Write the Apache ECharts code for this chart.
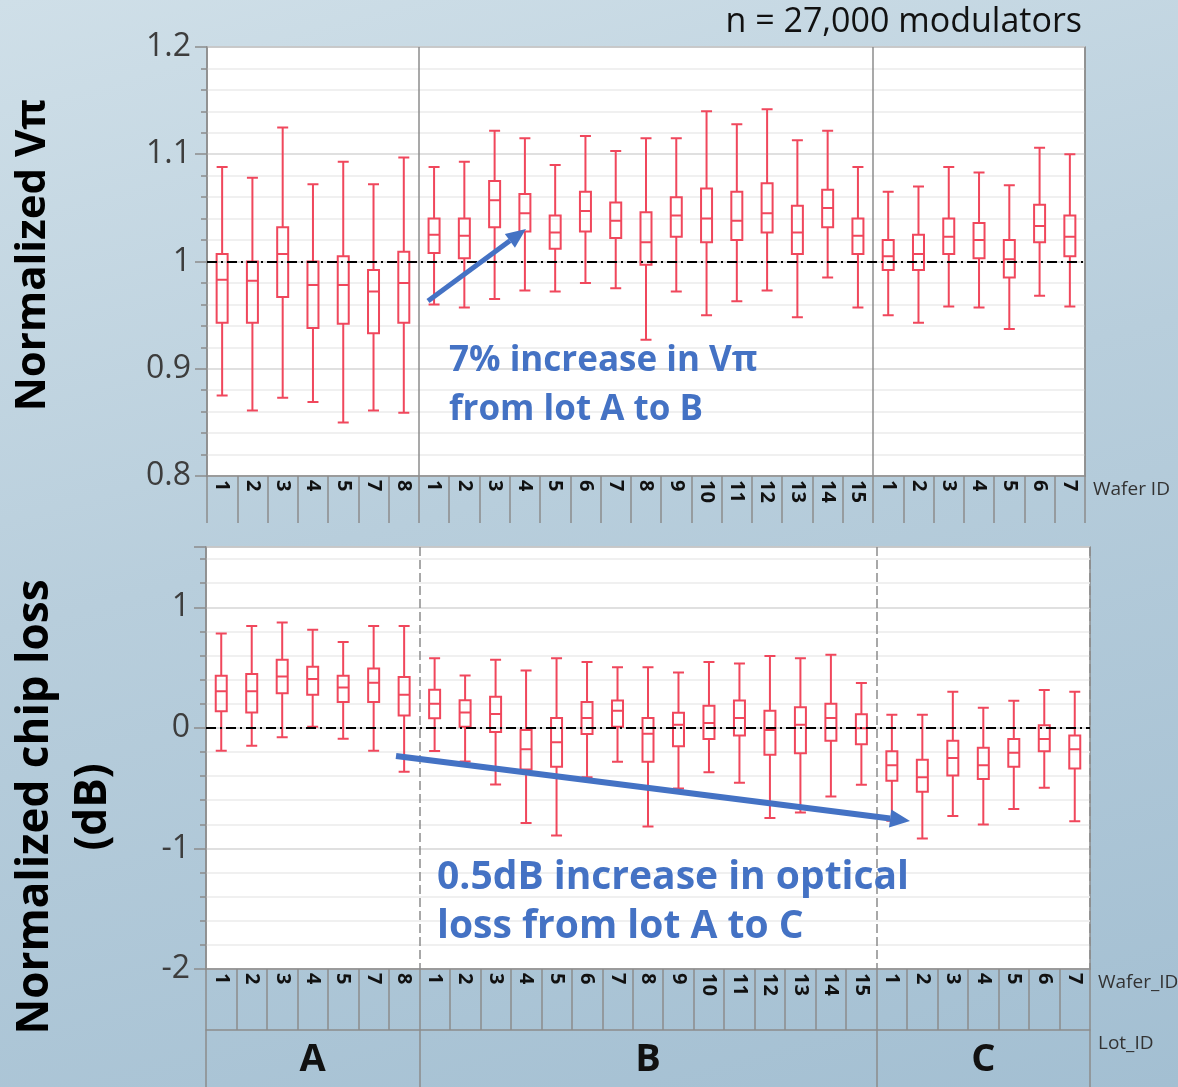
<!DOCTYPE html>
<html>
<head>
<meta charset="utf-8">
<script src="https://cdn.jsdelivr.net/npm/echarts@6/dist/echarts.min.js"></script>
<style>
  html, body { margin: 0; padding: 0; }
  body {
    width: 1178px; height: 1087px; overflow: hidden;
    background: linear-gradient(165deg, #cfdfe8 0%, #b8cedc 45%, #a3bfd2 100%);
  }
  #chart { width: 1178px; height: 1087px; }
</style>
</head>
<body>
<div id="chart"></div>
<script>
const lots = ['A', 'B', 'C'];
const wafersA = ['1', '2', '3', '4', '5', '7', '8'];
const wafersB = ['1', '2', '3', '4', '5', '6', '7', '8', '9', '10', '11', '12', '13', '14', '15'];
const wafersC = ['1', '2', '3', '4', '5', '6', '7'];

// Normalized Vpi, [min, Q1, median, Q3, max] per wafer
const vpiLotA = [
  [0.875, 0.943, 0.983, 1.007, 1.088],
  [0.861, 0.943, 0.982, 1.000, 1.078],
  [0.873, 0.967, 1.007, 1.032, 1.125],
  [0.869, 0.938, 0.978, 1.000, 1.072],
  [0.850, 0.942, 0.978, 1.005, 1.093],
  [0.861, 0.933, 0.972, 0.992, 1.072],
  [0.859, 0.943, 0.980, 1.009, 1.097]
];
const vpiLotB = [
  [0.960, 1.008, 1.025, 1.040, 1.088],
  [0.957, 1.003, 1.024, 1.040, 1.093],
  [0.965, 1.032, 1.057, 1.075, 1.122],
  [0.973, 1.028, 1.045, 1.063, 1.115],
  [0.972, 1.012, 1.027, 1.043, 1.090],
  [0.980, 1.028, 1.047, 1.065, 1.117],
  [0.975, 1.022, 1.038, 1.055, 1.103],
  [0.927, 0.997, 1.018, 1.046, 1.115],
  [0.972, 1.023, 1.043, 1.060, 1.115],
  [0.950, 1.018, 1.040, 1.068, 1.140],
  [0.963, 1.020, 1.038, 1.065, 1.128],
  [0.973, 1.027, 1.045, 1.073, 1.142],
  [0.948, 1.007, 1.027, 1.052, 1.113],
  [0.985, 1.032, 1.050, 1.067, 1.122],
  [0.957, 1.007, 1.024, 1.040, 1.088]
];
const vpiLotC = [
  [0.950, 0.992, 1.005, 1.020, 1.065],
  [0.943, 0.992, 1.007, 1.025, 1.070],
  [0.958, 1.007, 1.023, 1.040, 1.088],
  [0.957, 1.003, 1.020, 1.036, 1.083],
  [0.937, 0.985, 1.002, 1.020, 1.071],
  [0.968, 1.018, 1.033, 1.053, 1.106],
  [0.958, 1.005, 1.023, 1.043, 1.100]
];

// Normalized chip loss (dB), [min, Q1, median, Q3, max] per wafer
const lossLotA = [
  [-0.190, 0.137, 0.303, 0.433, 0.783],
  [-0.149, 0.127, 0.303, 0.447, 0.844],
  [-0.078, 0.286, 0.425, 0.565, 0.874],
  [0.010, 0.275, 0.405, 0.507, 0.814],
  [-0.091, 0.215, 0.334, 0.433, 0.712],
  [-0.190, 0.215, 0.375, 0.493, 0.844],
  [-0.364, 0.102, 0.275, 0.422, 0.844]
];
const lossLotB = [
  [-0.191, 0.079, 0.200, 0.316, 0.578],
  [-0.279, 0.010, 0.128, 0.230, 0.434],
  [-0.469, -0.034, 0.115, 0.258, 0.564],
  [-0.789, -0.345, -0.178, -0.017, 0.475],
  [-0.893, -0.323, -0.120, 0.082, 0.578],
  [-0.409, -0.050, 0.082, 0.214, 0.547],
  [-0.282, 0.010, 0.142, 0.227, 0.503],
  [-0.819, -0.282, -0.048, 0.082, 0.503],
  [-0.502, -0.153, 0.026, 0.126, 0.459],
  [-0.368, -0.092, 0.040, 0.183, 0.547],
  [-0.455, -0.064, 0.082, 0.227, 0.533],
  [-0.748, -0.224, -0.017, 0.142, 0.597],
  [-0.701, -0.211, 0.026, 0.170, 0.578],
  [-0.569, -0.106, 0.082, 0.200, 0.607],
  [-0.472, -0.136, -0.004, 0.112, 0.373]
];
const lossLotC = [
  [-0.770, -0.439, -0.310, -0.194, 0.109],
  [-0.918, -0.530, -0.409, -0.265, 0.109],
  [-0.731, -0.395, -0.249, -0.106, 0.300],
  [-0.802, -0.425, -0.310, -0.166, 0.167],
  [-0.673, -0.323, -0.207, -0.092, 0.225],
  [-0.497, -0.194, -0.092, 0.021, 0.313],
  [-0.775, -0.337, -0.178, -0.064, 0.300]
];

const waferLists = [wafersA, wafersB, wafersC];
const categories = [];
const lotStart = [];
const lotCenter = [];
lots.forEach((lot, k) => {
  lotStart.push(categories.length);
  lotCenter.push(categories.length + Math.floor(waferLists[k].length / 2));
  waferLists[k].forEach(w => categories.push(lot + '-' + w));
});
const vpiData = vpiLotA.concat(vpiLotB, vpiLotC);
const lossData = lossLotA.concat(lossLotB, lossLotC);

const FONT = '"Open Sans", "Noto Sans", sans-serif';
const GRAY = '#8c8c8c';
const RED = '#f0475c';
const BLUE = '#4472c4';

function waferAxis(gridIndex, tickLen, name, dividerType) {
  return {
    gridIndex: gridIndex,
    type: 'category',
    data: categories,
    boundaryGap: true,
    axisLine: { show: true, onZero: false, lineStyle: { color: GRAY, width: 1.5 } },
    axisTick: { show: true, interval: 0, length: tickLen, lineStyle: { color: GRAY, width: 1.5 } },
    axisLabel: {
      interval: 0, rotate: -90, margin: 4,
      fontFamily: FONT, fontSize: 20, fontWeight: 'bold', color: '#111',
      formatter: v => v.split('-')[1]
    },
    splitLine: {
      show: true,
      interval: i => lotStart.indexOf(i) > 0,
      lineStyle: { color: GRAY, width: 1.5, type: dividerType }
    },
    name: name,
    nameLocation: 'end',
    nameGap: 8,
    nameTextStyle: {
      fontFamily: FONT, fontSize: 19, color: '#333',
      align: 'left', verticalAlign: 'top', padding: [4, 0, 0, 0]
    }
  };
}

function valueAxis(gridIndex, min, max, interval) {
  return {
    gridIndex: gridIndex,
    type: 'value',
    min: min, max: max, interval: interval,
    axisLine: { show: true, lineStyle: { color: GRAY, width: 1.5 } },
    axisTick: { show: true, length: 12, lineStyle: { color: GRAY, width: 1.5 } },
    minorTick: { show: true, splitNumber: 5, length: 6, lineStyle: { color: GRAY, width: 1.5 } },
    axisLabel: { fontFamily: FONT, fontSize: 32, color: '#3d3d3d', margin: 16, showMaxLabel: gridIndex === 0 },
    splitLine: { show: true, lineStyle: { color: '#d6d6d6', width: 1.5 } },
    minorSplitLine: { show: true, lineStyle: { color: '#ececec', width: 1.5 } }
  };
}

function refLine(value) {
  return {
    silent: true,
    symbol: 'none',
    label: { show: false },
    lineStyle: { color: '#000', width: 1.8, type: [10, 4, 2, 4] },
    data: [{ yAxis: value }]
  };
}

function arrow(x1, y1, x2, y2, w, headLen, headW) {
  const a = Math.atan2(y2 - y1, x2 - x1);
  const bx = x2 - headLen * Math.cos(a);
  const by = y2 - headLen * Math.sin(a);
  const px = -Math.sin(a) * headW / 2;
  const py = Math.cos(a) * headW / 2;
  return [
    { type: 'line', z: 100, shape: { x1: x1, y1: y1, x2: bx, y2: by }, style: { stroke: BLUE, lineWidth: w } },
    { type: 'polygon', z: 100, shape: { points: [[x2, y2], [bx + px, by + py], [bx - px, by - py]] }, style: { fill: BLUE } }
  ];
}

function label(text, x, y, size) {
  return {
    type: 'text', x: x, y: y, z: 100,
    style: {
      text: text, fontFamily: FONT, fontSize: size, fontWeight: 'bold',
      fill: BLUE, align: 'left', verticalAlign: 'middle'
    }
  };
}

const chart = echarts.init(document.getElementById('chart'), null, { renderer: 'canvas' });

chart.setOption({
  animation: false,
  backgroundColor: 'transparent',
  grid: [
    { left: 207, top: 47, width: 878, height: 429, show: true, backgroundColor: '#fff',
      borderColor: GRAY, borderWidth: 1.5, containLabel: false, outerBoundsMode: 'none' },
    { left: 206, top: 547, width: 884, height: 422, show: true, backgroundColor: '#fff',
      borderColor: GRAY, borderWidth: 1.5, containLabel: false, outerBoundsMode: 'none' }
  ],
  xAxis: [
    waferAxis(0, 47, 'Wafer ID', 'solid'),
    waferAxis(1, 61, 'Wafer_ID', [9, 4]),
    {
      gridIndex: 1,
      type: 'category',
      data: categories,
      position: 'bottom',
      offset: 61,
      boundaryGap: true,
      axisLine: { show: true, onZero: false, lineStyle: { color: GRAY, width: 1.5 } },
      axisTick: { show: true, interval: i => lotStart.indexOf(i) >= 0, length: 57, lineStyle: { color: GRAY, width: 1.5 } },
      axisLabel: {
        interval: 0, margin: 11,
        fontFamily: FONT, fontSize: 38, fontWeight: 'bold', color: '#111',
        formatter: (v, i) => (lotCenter.indexOf(i) >= 0 ? lots[lotCenter.indexOf(i)] : '')
      },
      splitLine: { show: false },
      name: 'Lot_ID',
      nameLocation: 'end',
      nameGap: 8,
      nameTextStyle: {
        fontFamily: FONT, fontSize: 19, color: '#333',
        align: 'left', verticalAlign: 'top', padding: [4, 0, 0, 0]
      }
    }
  ],
  yAxis: [
    valueAxis(0, 0.8, 1.2, 0.1),
    valueAxis(1, -2, 1.5, 1)
  ],
  series: [
    {
      name: 'Normalized Vπ',
      type: 'boxplot',
      xAxisIndex: 0, yAxisIndex: 0,
      data: vpiData,
      boxWidth: [11, 11],
      itemStyle: { color: 'rgba(255,255,255,0)', borderColor: RED, borderWidth: 2 },
      markLine: refLine(1)
    },
    {
      name: 'Normalized chip loss',
      type: 'boxplot',
      xAxisIndex: 1, yAxisIndex: 1,
      data: lossData,
      boxWidth: [11, 11],
      itemStyle: { color: 'rgba(255,255,255,0)', borderColor: RED, borderWidth: 2 },
      markLine: refLine(0)
    }
  ],
  graphic: [
    { type: 'text', x: 1082, y: 22, z: 100,
      style: { text: 'n = 27,000 modulators', fontFamily: FONT, fontSize: 34, fill: '#111', align: 'right', verticalAlign: 'middle' } },
    { type: 'text', x: 33, y: 255, z: 100, rotation: Math.PI / 2,
      style: { text: 'Normalized Vπ', fontFamily: FONT, fontSize: 42, fontWeight: 'bold', fill: '#000', align: 'center', verticalAlign: 'middle' } },
    { type: 'text', x: 64, y: 807, z: 100, rotation: Math.PI / 2,
      style: { text: 'Normalized chip loss\n(dB)', fontFamily: FONT, fontSize: 44, fontWeight: 'bold', lineHeight: 58, fill: '#000', align: 'center', verticalAlign: 'middle' } },
    label('7% increase in Vπ', 449, 361, 35),
    label('from lot A to B', 449, 410, 35),
    label('0.5dB increase in optical', 437, 878, 39),
    label('loss from lot A to C', 437, 927, 39)
  ].concat(
    arrow(428, 301, 526, 229, 5, 20, 17),
    arrow(396, 756, 910, 821, 6, 20, 18)
  )
});
</script>
</body>
</html>
